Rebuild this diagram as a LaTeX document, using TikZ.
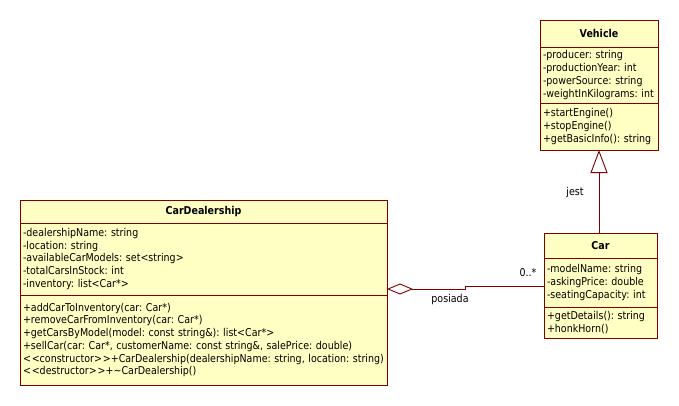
\documentclass[tikz,border=0pt]{standalone}
\usepackage{fontspec}
\setmainfont{DejaVu Sans}[FakeStretch=0.88]
\usetikzlibrary{arrows.meta,calc,positioning}
\definecolor{umlfill}{HTML}{FFFFC4}
\definecolor{umlline}{HTML}{800000}
\newcommand{\umlll}{\textless\kern.8pt\textless}
\newcommand{\umlgg}{\textgreater\kern.8pt\textgreater}
\tikzset{
	umlbox/.style   = {draw=umlline, fill=umlfill, line width=.9pt, outer sep=0pt, inner xsep=3pt, inner ysep=0pt, font=\fontsize{10.8}{12.7}\selectfont\frenchspacing},
	umlhead/.style  = {umlbox, align=center, font=\fontsize{10.8}{12.7}\selectfont\bfseries},
	umlpart/.style  = {umlbox, align=left},
	umllabel/.style = {font=\fontsize{10.8}{12.7}\selectfont, inner sep=0pt},
	umlgen/.style   = {draw=umlline, line width=.9pt, -{Triangle[open, length=23pt, width=17pt]}},
	umlaggr/.style  = {draw=umlline, line width=.9pt, {Diamond[open, length=26pt, width=11pt]}-},
}

\begin{document}
\begin{tikzpicture}[x=1pt, y=-1pt]
		\useasboundingbox (0,0) rectangle (679,405);
		% Vehicle
		\node[umlhead, text width=112pt, minimum height=27pt, anchor=north west] (vehicle) at (540,20) {Vehicle};
		\node[umlpart, text width=112pt, minimum height=56pt, below=0pt of vehicle] (vehicleattr) {-producer: string\\-productionYear: int\\-powerSource: string\\-weightInKilograms: int};
		\node[umlpart, text width=112pt, minimum height=47pt, below=0pt of vehicleattr] (vehicleops) {+startEngine()\\+stopEngine()\\+getBasicInfo(): string};
		% Car
		\node[umlhead, text width=107pt, minimum height=25pt, anchor=north west] (car) at (544,233) {Car};
		\node[umlpart, text width=107pt, minimum height=49pt, below=0pt of car] (carattr) {-modelName: string\\-askingPrice: double\\-seatingCapacity: int};
		\node[umlpart, text width=107pt, minimum height=31pt, below=0pt of carattr] (carops) {+getDetails(): string\\+honkHorn()};
		% CarDealership
		\node[umlhead, text width=361pt, minimum height=23pt, anchor=north west] (dealer) at (20,200) {CarDealership};
		\node[umlpart, text width=361pt, minimum height=72pt, below=0pt of dealer] (dealerattr) {-dealershipName: string\\-location: string\\-availableCarModels: set\textless string\textgreater\\-totalCarsInStock: int\\-inventory: list\textless Car*\textgreater};
		\node[umlpart, text width=361pt, minimum height=90pt, below=0pt of dealerattr] (dealerops) {+addCarToInventory(car: Car*)\\+removeCarFromInventory(car: Car*)\\+getCarsByModel(model: const string\&): list\textless Car*\textgreater\\+sellCar(car: Car*, customerName: const string\&, salePrice: double)\\\umlll constructor\umlgg +CarDealership(dealershipName: string, location: string)\\\umlll destructor\umlgg +\textasciitilde CarDealership()};
		% relations
		\draw[umlgen] (vehicleops.south |- car.north) -- (vehicleops.south);
		\coordinate (dealerport) at ($(dealerattr.south east)+(0,-6)$);
		\coordinate (carport) at ($(carattr.west)+(0,4)$);
		\draw[umlaggr] (dealerport) -| ($(dealerport)!.5!(carport)$) |- (carport);
		\node[umllabel] (jest) at (575,193) {jest};
		\node[umllabel] (mult) at (528,273) {0..*};
		\node[umllabel] (posiada) at (450,300) {posiada};
	\end{tikzpicture}
\end{document}
